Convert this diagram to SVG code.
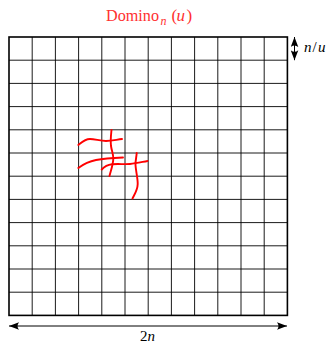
<svg xmlns="http://www.w3.org/2000/svg" width="329" height="343" viewBox="0 0 329 343">
<style>
.grid{stroke:#000;stroke-width:0.9;fill:none}
.frame{stroke:#000;stroke-width:1.6;fill:none}
.red{stroke:#ff0000;stroke-width:1.9;fill:none;stroke-linecap:round}
.dim{stroke:#000;stroke-width:1;fill:none}
.lbl{font-family:"Liberation Serif",serif;font-size:15px;fill:#000}
.it{font-style:italic}
.title{font-family:"Liberation Serif",serif;font-size:17px;fill:#ff3030}
</style>
<defs>
<marker id="head" viewBox="-11 -4 12 8" refX="0" refY="0" markerWidth="12" markerHeight="8" markerUnits="userSpaceOnUse" orient="auto-start-reverse">
<path d="M0,0 L-10,-3.8 Q-7,0 -10,3.8 Z" fill="#000"/>
</marker>
</defs>
<text class="title" x="106" y="21" textLength="53" lengthAdjust="spacingAndGlyphs">Domino</text>
<text class="title it" x="160.5" y="24.5" style="font-size:12px">n</text>
<text class="title" x="171.5" y="21">(</text>
<text class="title it" x="176.5" y="21">u</text>
<text class="title" x="186.5" y="21">)</text>
<g id="grid">
<path class="grid" d="M32.2,37V315.4M55.4,37V315.4M78.6,37V315.4M101.8,37V315.4M125,37V315.4M148.2,37V315.4M171.4,37V315.4M194.6,37V315.4M217.8,37V315.4M241,37V315.4M264.2,37V315.4
M9,60.2H287.4M9,83.4H287.4M9,106.6H287.4M9,129.8H287.4M9,153H287.4M9,176.2H287.4M9,199.4H287.4M9,222.6H287.4M9,245.8H287.4M9,269H287.4M9,292.2H287.4"/>
<rect class="frame" x="9" y="37" width="278.4" height="278.4"/>
</g>
<g id="curves">
<path class="red" d="M78.3,145 C82,142 85,139 90,139 C95,139 100,141 106,141 C112,141 117,139.5 122,139"/>
<path class="red" d="M111.5,130 C111,135 110.3,140 111,146 C111.7,151 113.5,154 113.3,159 C113,165 111,170 109.5,176"/>
<path class="red" d="M78.3,168 C83,164.5 88,161.5 96,160 C104,158.5 112,158 123,157.5"/>
<path class="red" d="M101.7,169.5 C104,167 106,165 112,164.3 C118,163.6 124,164.5 130,164 C136,163.5 142,162 147.5,161"/>
<path class="red" d="M136.7,153 C136.5,157 135.3,161 135.5,165 C135.8,171 137.8,178 137.7,184 C137.6,190 134.5,194.5 132.5,198.5"/>
</g>
<g id="connectors">
<path class="dim" d="M294.5,37V60.2" marker-start="url(#head)" marker-end="url(#head)"/>
<path class="dim" d="M9,326H287" marker-start="url(#head)" marker-end="url(#head)"/>
</g>
<g id="labels">
<text class="lbl it" x="304" y="52">n</text>
<text class="lbl" x="312.5" y="52">/</text>
<text class="lbl it" x="318" y="52">u</text>
<text class="lbl" x="140" y="341">2</text>
<text class="lbl it" x="147.5" y="341">n</text>
</g>
</svg>
